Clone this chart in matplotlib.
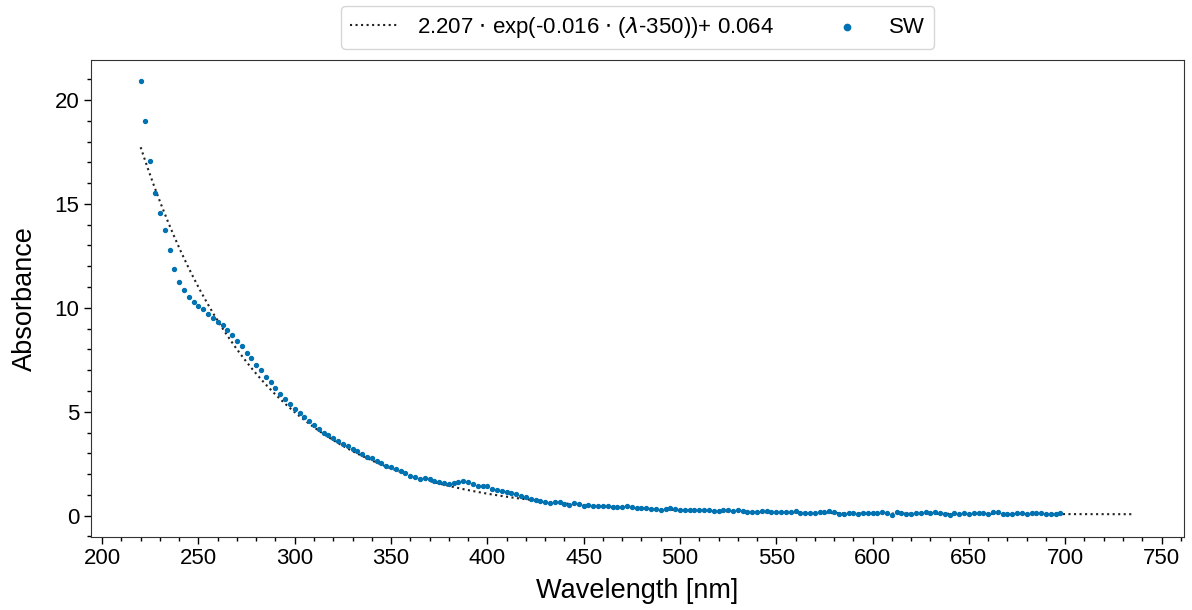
import numpy as np
import matplotlib.pyplot as plt
from matplotlib.ticker import MultipleLocator

plt.rcParams['font.family'] = ['Liberation Sans', 'DejaVu Sans']

# measured absorbance, SW sample, 2.5 nm steps from 220 nm
wavelength = np.arange(220, 700, 2.5)
absorbance = [
    20.90, 18.98, 17.06, 15.52, 14.56, 13.73, 12.77, 11.87, 11.23, 10.85,
    10.53, 10.27, 10.08, 9.95, 9.70, 9.50, 9.31, 9.19, 8.93, 8.67,
    8.40, 8.14, 7.82, 7.57, 7.25, 6.99, 6.67, 6.42, 6.16, 5.84,
    5.59, 5.36, 5.14, 4.94, 4.75, 4.56, 4.37, 4.18, 3.98, 3.86,
    3.73, 3.60, 3.47, 3.35, 3.22, 3.09, 2.96, 2.83, 2.77, 2.64,
    2.51, 2.39, 2.32, 2.26,
    2.15, 2.07, 1.92, 1.84, 1.78, 1.79, 1.75, 1.68, 1.60, 1.55,
    1.54, 1.59, 1.62, 1.65, 1.60, 1.51, 1.43, 1.44, 1.41, 1.30,
    1.23, 1.19, 1.15, 1.11, 1.03, 0.95, 0.88, 0.82, 0.74, 0.71,
    0.67, 0.63, 0.64, 0.66, 0.55, 0.53, 0.59, 0.58, 0.48, 0.51,
    0.48, 0.48, 0.47, 0.48, 0.43, 0.42, 0.42, 0.45, 0.42, 0.39,
    0.37, 0.35, 0.34, 0.34, 0.27, 0.31, 0.35, 0.34, 0.29, 0.27,
    0.27, 0.27, 0.26, 0.26, 0.26, 0.23, 0.21, 0.27, 0.26, 0.24,
    0.26, 0.23, 0.18, 0.18, 0.19, 0.23, 0.23, 0.18, 0.18,
    0.16, 0.19, 0.16, 0.24, 0.11, 0.11, 0.15, 0.11, 0.16, 0.18,
    0.24, 0.16, 0.08, 0.08, 0.11, 0.15, 0.08, 0.15, 0.11, 0.15,
    0.11, 0.16, 0.11, 0.03, 0.16, 0.15, 0.08, 0.08, 0.11, 0.13,
    0.16, 0.15, 0.16, 0.11, 0.08, 0.03, 0.11, 0.08, 0.15, 0.08,
    0.11, 0.11, 0.11, 0.07, 0.16, 0.16, 0.08, 0.08, 0.07, 0.11,
    0.11, 0.08, 0.11, 0.15, 0.11, 0.08, 0.07, 0.08, 0.11,
]

# exponential fit parameters (from legend)
amp, slope, ref, offset = 2.207, 0.016, 350, 0.064
fit_x = np.linspace(220, 736, 300)
fit_y = amp * np.exp(-slope * (fit_x - ref)) + offset

fig = plt.figure(figsize=(11.92, 6.10), dpi=100)
ax = fig.add_axes([0.0763, 0.1202, 0.9172, 0.782])

ax.plot(fit_x, fit_y, ':', color='#222222', lw=1.5,
        label=r"2.207 $\cdot$ exp(-0.016 $\cdot$ ($\lambda$-350))+ 0.064")
ax.scatter(wavelength, absorbance, s=8, color='#0072B2', label='SW', zorder=3)

ax.xaxis.set_major_locator(MultipleLocator(50))
ax.xaxis.set_minor_locator(MultipleLocator(10))
ax.yaxis.set_major_locator(MultipleLocator(5))
ax.yaxis.set_minor_locator(MultipleLocator(1))
ax.tick_params(which='major', length=5, width=1, labelsize=16, direction='out')
ax.tick_params(which='minor', length=3, width=1, direction='out')
for sp in ax.spines.values():
    sp.set_color('#333333')

ax.set_xlabel('Wavelength [nm]', fontsize=19.5, labelpad=6)
ax.set_ylabel('Absorbance', fontsize=19.5, labelpad=12)

ax.legend(loc='lower center', bbox_to_anchor=(0.5, 1.0), ncol=2, fontsize=16,
          markerscale=1.6, columnspacing=2.2, handlelength=2.2)

plt.savefig("out.png", dpi=100)
